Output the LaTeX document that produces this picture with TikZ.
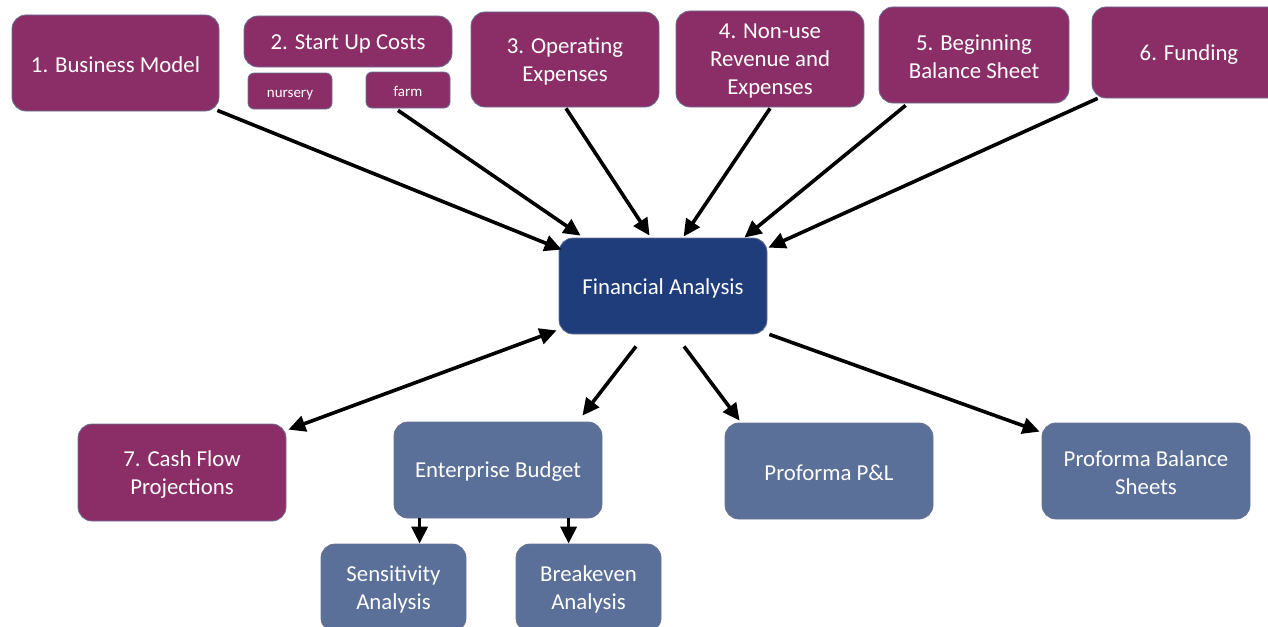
\documentclass[tikz,border=0pt]{standalone}
\usepackage{fontspec}
\setmainfont{Carlito}
\usetikzlibrary{arrows.meta,calc}
\definecolor{plum}{RGB}{139,46,103}
\definecolor{navy}{RGB}{31,60,123}
\definecolor{slate}{RGB}{90,112,153}
\definecolor{rim}{RGB}{105,115,145}
\tikzset{
  caption/.style={text=white, align=center, inner sep=0pt, yshift=-2pt,
    font=\fontsize{22.8}{28}\selectfont},
  smallcaption/.style={text=white, inner sep=0pt, text height=9pt, text depth=3pt,
    yshift=-3pt, font=\fontsize{15}{18}\selectfont},
  box/.style={draw=rim, line width=0.8pt, rounded corners=14pt, inner sep=0pt,
    label={[caption]center:{#1}}},
  pbox/.style={box={#1}, fill=plum},
  nbox/.style={box={#1}, fill=navy},
  sbox/.style={box={#1}, fill=slate},
  lowbox/.style={draw=rim, line width=0.8pt, rounded corners=14pt, inner sep=0pt,
    fill=slate, label={[caption, yshift=1pt]center:{#1}}},
  tinybox/.style={draw=rim, line width=0.8pt, rounded corners=6pt, inner sep=0pt,
    fill=plum, label={[smallcaption]center:{#1}}},
  link/.style={line width=3.6pt, -{Triangle[length=17pt,width=16pt]}},
  both/.style={line width=3.6pt, {Triangle[length=17pt,width=16pt]}-{Triangle[length=17pt,width=16pt]}},
}
\begin{document}
\begin{tikzpicture}[x=1pt,y=-1pt]
\useasboundingbox (0,0) rectangle (1268,626);
\clip (0,0) rectangle (1268,626);

% input boxes across the top
\node[pbox={1. Business Model}, minimum width=207, minimum height=96] (bm) at (115.5,63) {};
\node[pbox={2. Start Up Costs}, minimum width=208, minimum height=51] (su) at (348,41.5) {};
\node[tinybox={nursery}, minimum width=84, minimum height=36] (nur) at (290,91) {};
\node[tinybox={farm}, minimum width=84, minimum height=36] (farm) at (408,90) {};
\node[pbox={3. Operating\\Expenses}, minimum width=188, minimum height=95] (op) at (565,59.5) {};
\node[pbox={4. Non-use\\Revenue and\\Expenses}, minimum width=188, minimum height=96] (nu) at (770,59) {};
\node[pbox={5. Beginning\\Balance Sheet}, minimum width=190, minimum height=96] (bb) at (974,55) {};
\node[pbox={6. Funding}, minimum width=194, minimum height=91] (fund) at (1189,52.5) {};

% central hub
\node[nbox={Financial Analysis}, minimum width=208, minimum height=96] (fa) at (663,286) {};

% outputs
\node[pbox={7. Cash Flow\\Projections}, minimum width=208, minimum height=97] (cf) at (182,472.5) {};
\node[sbox={Enterprise Budget}, minimum width=208, minimum height=96] (eb) at (498,470) {};
\node[lowbox={Sensitivity\\Analysis}, minimum width=145, minimum height=88] (sa) at (393.5,588) {};
\node[lowbox={Breakeven\\Analysis}, minimum width=145, minimum height=88] (be) at (588.5,588) {};
\node[sbox={Proforma P\&L}, minimum width=208, minimum height=96] (pl) at (829,471) {};
\node[sbox={Proforma Balance\\Sheets}, minimum width=208, minimum height=96] (pb) at (1146,471) {};

% inputs into the hub
\draw[link] ($(bm.south east)+(-2,-1)$) -- ($(fa.north west)+(3,12)$);
\draw[link] ($(farm.south)+(-10,2)$) -- ($(fa.north west)+(22,-2)$);
\draw[link] ($(op.south)+(1,1)$) -- ($(fa.north west)+(91,-2)$);
\draw[link] ($(nu.south)+(0,1)$) -- ($(fa.north west)+(125,-1)$);
\draw[link] ($(bb.south west)+(27,2)$) -- ($(fa.north east)+(-23,0)$);
\draw[link] ($(fund.south west)+(6,0)$) -- ($(fa.north east)+(1,10)$);

% outputs from the hub
\draw[both] ($(cf.north east)+(2,6)$) -- ($(fa.south west)+(-2,-4)$);
\draw[link] ($(fa.south)+(-27,12)$) -- ($(eb.north east)+(-20,-6)$);
\draw[link] ($(fa.south)+(21,12)$) -- ($(pl.north west)+(15,-2)$);
\draw[link] ($(fa.south east)+(2,0)$) -- ($(pb.north west)+(-2,9)$);

% budget analyses
\draw[link] ($(eb.south west)+(26,0)$) -- ($(sa.north west)+(99,0)$);
\draw[link] ($(eb.south west)+(175,0)$) -- ($(be.north west)+(53,0)$);
\end{tikzpicture}
\end{document}
